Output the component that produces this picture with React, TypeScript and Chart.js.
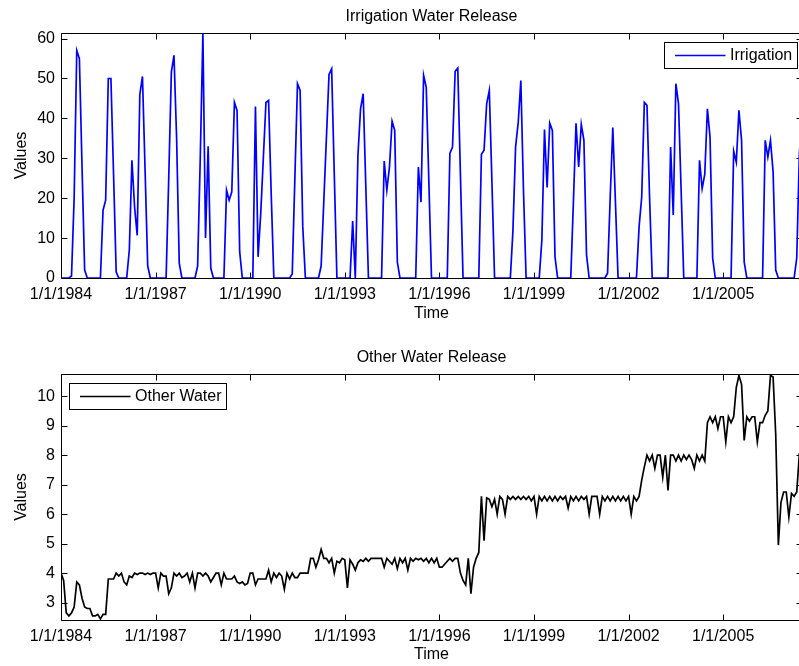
import React, { useEffect, useRef } from 'react';
import { Chart, registerables } from 'chart.js';

Chart.register(...registerables);

const FONT = '"Liberation Sans", Arial, Helvetica, sans-serif';

// Monthly values, January 1984 onwards
const irrigation: number[] = [
  0, 0, 0, 0, 0.5, 20, 57, 55, 28, 2, 0, 0,
  0, 0, 0, 0, 17, 19.5, 50, 50, 26, 1.5, 0, 0,
  0, 0, 7, 29.5, 17.8, 10.7, 46, 50.5, 27, 3, 0, 0,
  0, 0, 0, 0, 0, 25, 51.6, 55.8, 35, 3.7, 0, 0,
  0, 0, 0, 0, 3, 30, 61.4, 10, 33, 2.5, 0, 0,
  0, 0, 0, 22, 19.5, 21.6, 44, 42, 6.6, 0, 0, 0,
  0, 0, 43, 5.3, 16, 30, 44, 44.5, 21, 0, 0, 0,
  0, 0, 0, 0, 1, 25, 48.7, 47, 13, 0, 0, 0,
  0, 0, 0, 3, 19, 35, 51, 52.4, 26, 0, 0, 0,
  0, 0, 0, 14.3, 0, 30.7, 42.4, 46.2, 23, 0, 0, 0,
  0, 0, 0, 29.3, 22, 27.8, 39.3, 37, 4, 0, 0, 0,
  0, 0, 0, 0, 27.8, 19, 50.8, 47.8, 24, 0, 0, 0,
  0, 0, 0, 0, 31.2, 32.8, 51.8, 52.6, 26, 0, 0, 0,
  0, 0, 0, 0, 31, 32, 43.7, 47, 24, 0, 0, 0,
  0, 0, 0, 0, 12, 32.8, 39, 49.5, 22, 0, 0, 0,
  0, 0, 0, 9.5, 37.2, 22.7, 38.8, 37, 5.3, 0, 0, 0,
  0, 0, 0, 19, 38.8, 27.8, 38.5, 34.5, 5.8, 0, 0, 0,
  0, 0, 0, 0, 1.2, 20, 37.7, 19, 0, 0, 0, 0,
  0, 0, 0, 0, 12.8, 20.3, 44, 43.3, 20, 0, 0, 0,
  0, 0, 0, 0, 32.8, 15.8, 48.7, 43.7, 22, 0, 0, 0,
  0, 0, 0, 29.5, 22.4, 26, 42.4, 35.3, 5, 0, 0, 0,
  0, 0, 0, 0, 31.8, 29, 42, 34.5, 4, 0, 0, 0,
  0, 0, 0, 0, 34.5, 30.3, 34.5, 26.6, 2, 0, 0, 0,
  0, 0, 0, 0, 5, 31, 40,
];

const otherWater: number[] = [
  4.0, 3.75, 2.65, 2.55, 2.65, 2.85, 3.7, 3.6, 3.15, 2.85, 2.8, 2.8,
  2.55, 2.55, 2.6, 2.45, 2.6, 2.6, 3.8, 3.8, 3.8, 4.0, 3.9, 4.0,
  3.7, 3.6, 3.9, 3.85, 4.0, 3.95, 4.0, 4.0, 3.95, 4.0, 3.95, 4.0,
  4.0, 3.5, 4.0, 3.9, 3.9, 3.3, 3.5, 4.0, 3.9, 4.0, 3.85, 3.9,
  4.0, 3.7, 4.0, 3.5, 4.0, 4.0, 3.9, 4.0, 3.9, 3.7, 3.85, 4.0,
  4.0, 3.6, 4.0, 3.8, 3.8, 3.8, 3.9, 3.7, 3.65, 3.7, 3.6, 3.65,
  4.0, 4.0, 3.6, 3.8, 3.8, 3.8, 3.8, 4.1, 3.7, 4.0, 3.85, 4.0,
  3.9, 3.45, 4.0, 3.8, 4.0, 3.85, 3.85, 4.0, 4.0, 4.0, 4.0, 4.5,
  4.5, 4.2, 4.45, 4.8, 4.5, 4.5, 4.35, 4.5, 4.0, 4.4, 4.35, 4.5,
  4.45, 3.5, 4.45, 4.3, 4.1, 4.35, 4.45, 4.4, 4.5, 4.4, 4.5, 4.5,
  4.5, 4.5, 4.5, 4.2, 4.5, 4.4, 4.3, 4.5, 4.15, 4.5, 4.35, 4.5,
  4.1, 4.5, 4.4, 4.5, 4.45, 4.5, 4.4, 4.5, 4.35, 4.5, 4.35, 4.5,
  4.2, 4.2, 4.3, 4.4, 4.5, 4.4, 4.5, 4.5, 4.0, 3.75, 3.6, 4.5,
  3.3, 4.2, 4.5, 4.7, 6.6, 5.1, 6.55, 6.5, 6.25, 6.5, 6.0, 6.6,
  6.5, 6.0, 6.6, 6.5, 6.6, 6.5, 6.6, 6.5, 6.6, 6.5, 6.6, 6.45,
  6.6, 6.0, 6.6, 6.45, 6.6, 6.45, 6.6, 6.45, 6.6, 6.45, 6.6, 6.5,
  6.6, 6.2, 6.6, 6.45, 6.6, 6.45, 6.6, 6.5, 6.6, 6.0, 6.6, 6.6,
  6.6, 6.0, 6.6, 6.45, 6.6, 6.45, 6.6, 6.45, 6.6, 6.45, 6.6, 6.45,
  6.6, 6.0, 6.6, 6.45, 6.6, 7.15, 7.6, 8.0, 7.8, 8.0, 7.55, 8.0,
  8.0, 7.25, 8.0, 6.8, 8.0, 8.0, 7.8, 8.0, 7.8, 8.0, 7.85, 8.0,
  7.85, 7.55, 8.0, 7.8, 8.0, 7.8, 9.1, 9.3, 9.1, 9.3, 8.9, 9.3,
  9.3, 8.45, 9.3, 9.1, 9.3, 10.3, 10.7, 10.4, 8.5, 9.3, 9.15, 9.3,
  9.3, 8.45, 9.1, 9.1, 9.35, 9.5, 10.7, 10.65, 8.7, 4.95, 6.4, 6.75,
  6.75, 5.9, 6.7, 6.6, 6.75, 8.05, 8.2,
];

// month index (0 = January 1984) for each value
const monthIndex: number[] = irrigation.map((_, i) => i);

const xTickMonths = [0, 36, 72, 108, 144, 180, 216, 252];
const xTickLabels = ['1/1/1984', '1/1/1987', '1/1/1990', '1/1/1993', '1/1/1996', '1/1/1999', '1/1/2002', '1/1/2005'];
const irrigationYTicks = [0, 10, 20, 30, 40, 50, 60];
const otherYTicks = [3, 4, 5, 6, 7, 8, 9, 10];

const framePlugin = {
  id: 'matlabFrame',
  beforeDatasetsDraw(chart: any) {
    const { ctx, chartArea: a, scales } = chart;
    const L = Math.floor(a.left) + 0.5;
    const R = Math.floor(a.right) + 0.5;
    const T = Math.floor(a.top) + 0.5;
    const B = Math.floor(a.bottom) + 0.5;
    const tl = 6;
    ctx.save();
    ctx.strokeStyle = '#000';
    ctx.lineWidth = 1;
    ctx.beginPath();
    ctx.rect(L, T, R - L, B - T);
    scales.x.ticks.forEach((t: any) => {
      const px = Math.round(scales.x.getPixelForValue(t.value)) + 0.5;
      ctx.moveTo(px, B); ctx.lineTo(px, B - tl);
      ctx.moveTo(px, T); ctx.lineTo(px, T + tl);
    });
    scales.y.ticks.forEach((t: any) => {
      const py = Math.round(scales.y.getPixelForValue(t.value)) + 0.5;
      ctx.moveTo(L, py); ctx.lineTo(L + tl, py);
      ctx.moveTo(R, py); ctx.lineTo(R - tl, py);
    });
    ctx.stroke();
    ctx.restore();
  },
  afterDatasetsDraw(chart: any, _args: any, opts: any) {
    const { ctx, chartArea: a } = chart;
    const ds = chart.data.datasets[0];
    ctx.save();
    ctx.font = `16px ${FONT}`;
    const tw = ctx.measureText(ds.label).width;
    const w = 10.5 + 50.5 + 4.5 + tw + 5;
    const h = 26;
    const left = opts.side === 'right' ? a.right - 5.5 - w : a.left + 7.5;
    const top = a.top + 8.5;
    const bx = Math.round(left) + 0.5;
    const by = Math.round(top) + 0.5;
    ctx.fillStyle = '#fff';
    ctx.fillRect(bx, by, Math.round(w), h);
    ctx.strokeStyle = '#000';
    ctx.lineWidth = 1;
    ctx.strokeRect(bx, by, Math.round(w), h);
    const cy = by + h / 2;
    ctx.strokeStyle = ds.borderColor;
    ctx.lineWidth = 1.7;
    ctx.beginPath();
    ctx.moveTo(bx + 10.5, cy);
    ctx.lineTo(bx + 61, cy);
    ctx.stroke();
    ctx.fillStyle = '#000';
    ctx.textBaseline = 'middle';
    ctx.textAlign = 'left';
    ctx.fillText(ds.label, bx + 65.5, cy + 0.5);
    ctx.restore();
  },
};

function makeConfig(p: {
  title: string;
  label: string;
  values: number[];
  color: string;
  yMin: number;
  yMax: number;
  yTicks: number[];
  xAxisHeight: number;
  legendSide: string;
}): any {
  const font = { family: FONT, size: 16, weight: 'normal' as const };
  return {
    type: 'line',
    data: {
      datasets: [
        {
          label: p.label,
          data: monthIndex.map((m, i) => ({ x: m, y: p.values[i] })),
          borderColor: p.color,
          backgroundColor: p.color,
          borderWidth: 1.7,
          pointRadius: 0,
          tension: 0,
          fill: false,
        },
      ],
    },
    options: {
      responsive: false,
      maintainAspectRatio: false,
      animation: false,
      layout: { padding: 0 },
      plugins: {
        legend: { display: false },
        tooltip: { enabled: false },
        title: {
          display: true,
          fullSize: false,
          text: p.title,
          color: '#000',
          font,
          padding: { top: 6.5, bottom: 7.3 },
        },
        matlabFrame: { side: p.legendSide },
      },
      scales: {
        x: {
          type: 'linear',
          min: 0,
          max: 282,
          grid: { display: false, drawTicks: false },
          border: { display: false },
          ticks: {
            autoSkip: false,
            maxRotation: 0,
            minRotation: 0,
            padding: 7,
            color: '#000',
            font,
            callback: (_v: any, idx: number) => xTickLabels[idx],
          },
          afterBuildTicks: (s: any) => {
            s.ticks = xTickMonths.map((v) => ({ value: v }));
          },
          afterFit: (s: any) => {
            s.height = p.xAxisHeight;
          },
          title: {
            display: true,
            text: 'Time',
            color: '#000',
            font,
            padding: { top: 0, bottom: 9.5 },
          },
        },
        y: {
          type: 'linear',
          min: p.yMin,
          max: p.yMax,
          grid: { display: false, drawTicks: false },
          border: { display: false },
          ticks: {
            padding: 6,
            color: '#000',
            font,
            callback: (v: any) => String(v),
          },
          afterBuildTicks: (s: any) => {
            s.ticks = p.yTicks.map((v) => ({ value: v }));
          },
          afterFit: (s: any) => {
            s.width = 61;
          },
          title: {
            display: true,
            text: 'Values',
            color: '#000',
            font,
            padding: { top: 11.6, bottom: 0 },
          },
        },
      },
    },
    plugins: [framePlugin],
  };
}

export default function App() {
  const topRef = useRef<HTMLCanvasElement>(null);
  const botRef = useRef<HTMLCanvasElement>(null);

  useEffect(() => {
    const top = new Chart(
      topRef.current as HTMLCanvasElement,
      makeConfig({
        title: 'Irrigation Water Release',
        label: 'Irrigation',
        values: irrigation,
        color: '#0000ff',
        yMin: 0,
        yMax: 61.4,
        yTicks: irrigationYTicks,
        xAxisHeight: 55,
        legendSide: 'right',
      })
    );
    const bot = new Chart(
      botRef.current as HTMLCanvasElement,
      makeConfig({
        title: 'Other Water Release',
        label: 'Other Water',
        values: otherWater,
        color: '#000000',
        yMin: 2.41,
        yMax: 10.75,
        yTicks: otherYTicks,
        xAxisHeight: 54,
        legendSide: 'left',
      })
    );
    return () => {
      top.destroy();
      bot.destroy();
    };
  }, []);

  return (
    <div
      style={{
        position: 'fixed',
        left: 0,
        top: 0,
        width: 799,
        height: 666,
        overflow: 'hidden',
        background: '#fff',
      }}
    >
      <canvas ref={topRef} width={802} height={333} style={{ position: 'absolute', left: 0, top: 0 }} />
      <canvas ref={botRef} width={802} height={333} style={{ position: 'absolute', left: 0, top: 341 }} />
    </div>
  );
}
